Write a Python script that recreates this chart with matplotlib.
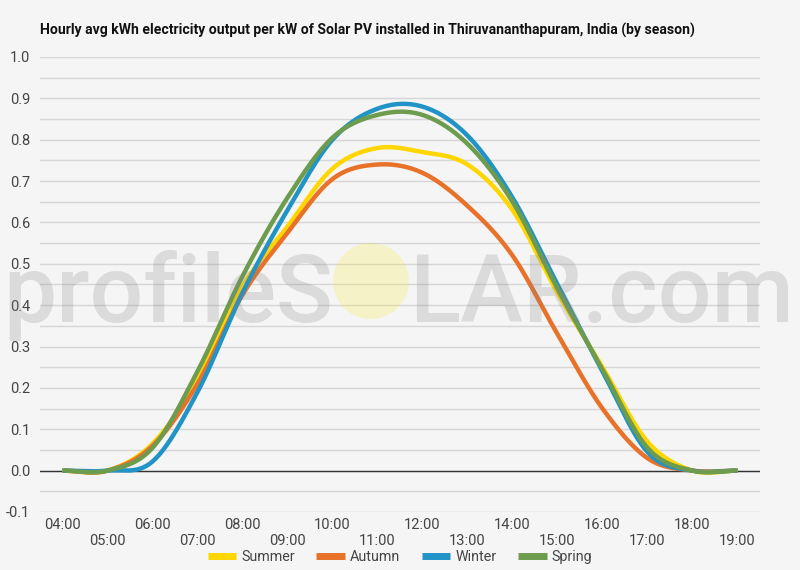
import numpy as np
import matplotlib.pyplot as plt
from matplotlib.patches import Ellipse

# hourly values
hours = list(range(4, 20))
hour_labels = [f"{h:02d}:00" for h in hours]
summer = [0.0, 0.0, 0.065, 0.22, 0.445, 0.59, 0.73, 0.78, 0.77, 0.74, 0.63, 0.43, 0.25, 0.07, 0.0, 0.0]
autumn = [0.0, 0.0, 0.06, 0.21, 0.425, 0.575, 0.705, 0.74, 0.72, 0.64, 0.52, 0.33, 0.15, 0.03, 0.0, 0.0]
winter = [0.0, 0.0, 0.022, 0.19, 0.43, 0.63, 0.80, 0.875, 0.88, 0.81, 0.66, 0.45, 0.24, 0.045, 0.0, 0.0]
spring = [0.0, 0.0, 0.055, 0.24, 0.47, 0.66, 0.805, 0.86, 0.86, 0.79, 0.65, 0.44, 0.245, 0.055, 0.0, 0.0]

series = {"Summer": summer, "Autumn": autumn, "Winter": winter, "Spring": spring}
colors = {"Summer": "#FFD600", "Autumn": "#E8722A", "Winter": "#2193C6", "Spring": "#6E9C4F"}

plt.rcParams['font.family'] = ['Roboto', 'DejaVu Sans']


def smooth(x, y, n=30):
    # cardinal (Catmull-Rom) curve through the hourly points, like the chart's curve type
    x = np.asarray(x, float)
    y = np.asarray(y, float)
    m = np.zeros_like(y)
    m[1:-1] = (y[2:] - y[:-2]) / 2
    m[0] = y[1] - y[0]
    m[-1] = y[-1] - y[-2]
    xs, ys = [], []
    t = np.linspace(0, 1, n, endpoint=False)
    for i in range(len(x) - 1):
        h00 = 2 * t**3 - 3 * t**2 + 1
        h10 = t**3 - 2 * t**2 + t
        h01 = -2 * t**3 + 3 * t**2
        h11 = t**3 - t**2
        xs.append(x[i] + t * (x[i + 1] - x[i]))
        ys.append(h00 * y[i] + h10 * m[i] + h01 * y[i + 1] + h11 * m[i + 1])
    xs.append([x[-1]])
    ys.append([y[-1]])
    return np.concatenate(xs), np.concatenate(ys)


bg = "#f5f5f5"
fig = plt.figure(figsize=(8, 5.7), dpi=100, facecolor=bg)
ax = fig.add_axes([0.05, 0.1018, 0.90, 0.7982])
ax.set_facecolor(bg)

for name, vals in series.items():
    sx, sy = smooth(hours, vals)
    ax.plot(sx, sy, color=colors[name], lw=3.2, label=name, solid_capstyle='butt', zorder=3)

ax.set_xlim(3.5, 19.5)
ax.set_ylim(-0.1, 1.0)

# gridlines every 0.05, labels every 0.1
for v in np.arange(-0.1, 1.0001, 0.05):
    ax.axhline(v, color="#d6d6d6", lw=1, zorder=1)
ax.axhline(0, color="#333333", lw=1, zorder=2)

ax.set_yticks(np.round(np.arange(-0.1, 1.0001, 0.1), 2))
ax.set_yticklabels([f"{v:.1f}" for v in np.arange(-0.1, 1.0001, 0.1)])
ax.set_xticks(hours)
ax.set_xticklabels([lab if i % 2 == 0 else "\n" + lab for i, lab in enumerate(hour_labels)])
ax.tick_params(length=0, labelsize=10.5, labelcolor="#444444")
ax.tick_params(axis='y', pad=7)
ax.tick_params(axis='x', pad=4)
for s in ax.spines.values():
    s.set_visible(False)

fig.text(0.05, 0.947, "Hourly avg kWh electricity output per kW of Solar PV installed in Thiruvananthapuram, India (by season)",
         fontsize=10.05, fontweight='bold', color="#111111", va='center', ha='left')

leg = fig.legend(loc='center', bbox_to_anchor=(0.5, 0.022), ncol=4, frameon=False,
                 fontsize=10.3, handlelength=2.0, columnspacing=1.5, handletextpad=0.35)
for t in leg.get_texts():
    t.set_color("#444444")
for h in leg.get_lines():
    h.set_linewidth(5)

# watermark on top
wm = dict(fontsize=68, fontweight='medium', color="#808080", alpha=0.22, va='baseline', zorder=10)
fig.text(333 / 800, 1 - 322 / 570, "profileS", ha='right', **wm)
fig.text(409 / 800, 1 - 322 / 570, "LAR.com", ha='left', **wm)
fig.patches.append(Ellipse((371 / 800, 1 - 281 / 570), 76 / 800, 76 / 570, transform=fig.transFigure,
                           facecolor="#FFE600", alpha=0.18, edgecolor='none', zorder=10))

fig.savefig("out.png", dpi=100, facecolor=bg)
